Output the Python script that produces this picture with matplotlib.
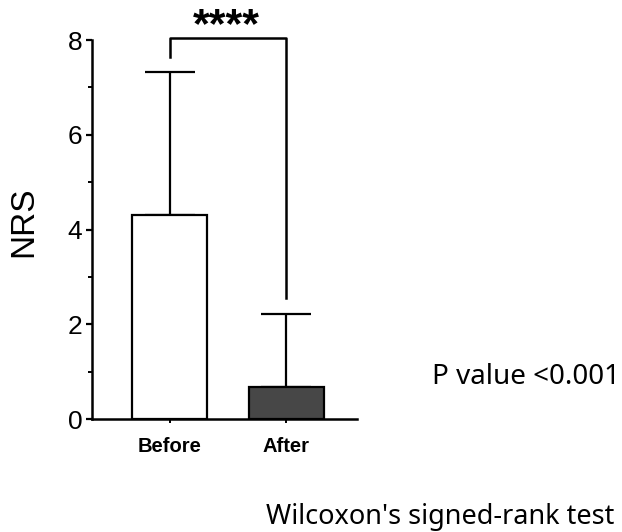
import matplotlib
matplotlib.use("Agg")
import matplotlib.pyplot as plt
from matplotlib.ticker import MultipleLocator

categories = ["Before", "After"]
means = [4.30, 0.68]
errors = [3.03, 1.54]
bar_colors = ["white", "#474747"]
yticks = [0, 2, 4, 6, 8]
sig_label = "****"
p_text = "P value <0.001"
test_text = "Wilcoxon's signed-rank test"

fig = plt.figure(figsize=(6.22, 5.32), dpi=100)
ax = fig.add_axes([0.148, 0.2124, 0.426, 0.7124])

x = list(range(len(categories)))
ax.bar(x, means, width=0.64, color=bar_colors, edgecolor="black", linewidth=1.6, zorder=2)
ax.errorbar(x, means, yerr=[[0, 0], errors], fmt="none", ecolor="black",
            elinewidth=1.6, capsize=18, capthick=1.6, zorder=1)

ax.set_xlim(-0.667, 1.607)
ax.set_ylim(0, 8)
ax.set_yticks(yticks)
ax.yaxis.set_minor_locator(MultipleLocator(1))
ax.set_xticks(x)
ax.set_xticklabels(categories, fontsize=14.5, family="Liberation Sans", fontweight="bold")
for lab in ax.get_yticklabels():
    lab.set_family("Liberation Sans")
    lab.set_fontsize(19)
ax.tick_params(axis="y", which="major", direction="out", length=4, width=1.6, pad=3)
ax.tick_params(axis="y", which="minor", direction="out", length=3, width=1.4)
ax.tick_params(axis="x", which="major", direction="out", length=3, width=1.4, pad=10)
for s in ["top", "right"]:
    ax.spines[s].set_visible(False)
for s in ["left", "bottom"]:
    ax.spines[s].set_linewidth(1.8)
ax.set_ylabel("NRS", fontsize=24, family="Liberation Sans", labelpad=16)
ax.yaxis.set_label_coords(-0.2, 0.52)

# significance bracket
top = 8.05
ax.plot([0, 0, 1, 1], [7.65, top, top, 2.55], color="black", lw=1.8, clip_on=False)
ax.text(0.49, 8.30, sig_label, ha="center", va="center", fontsize=31,
        fontweight="bold", family="Liberation Sans")

fig.text(0.996, 0.291, p_text, fontsize=20, family="Noto Sans", va="center", ha="right")
fig.text(0.987, 0.028, test_text, fontsize=19.5, family="Noto Sans", va="center", ha="right")

fig.savefig("out.png", dpi=100)
